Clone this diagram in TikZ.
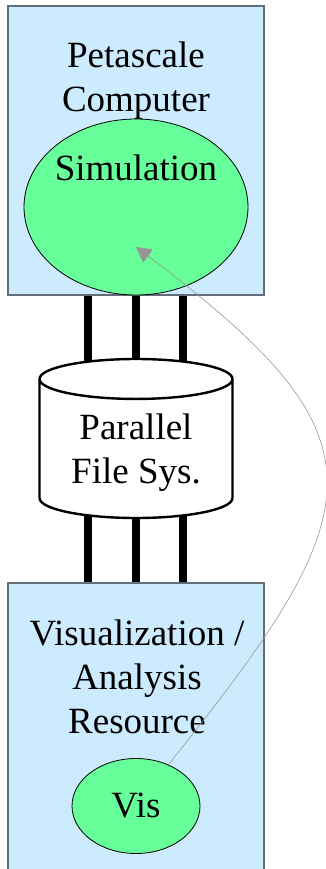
\documentclass[tikz,border=0pt]{standalone}
\usepackage{fontspec}
\setmainfont{Liberation Serif}
\usetikzlibrary{shapes.geometric,arrows.meta,backgrounds}
\definecolor{hostblue}{RGB}{204,235,255}
\definecolor{hostedge}{RGB}{100,110,120}
\definecolor{taskgreen}{RGB}{102,255,153}
\definecolor{linkgray}{RGB}{150,150,150}
\begin{document}
\begin{tikzpicture}[x=1pt,y=-1pt,
  hostbox/.style={draw=hostedge, fill=hostblue, line width=1.2pt,
    minimum width=256pt, inner sep=0pt},
  task/.style={ellipse, draw, fill=taskgreen, line width=0.8pt, inner sep=0pt},
  txt/.style={font=\fontsize{37}{44}\selectfont, align=center, anchor=base, inner sep=0pt},
  store/.style={cylinder, shape border rotate=90, draw, fill=white, line width=2.4pt,
    minimum width=193pt, minimum height=159pt, aspect=0.207, inner xsep=96.5pt, inner ysep=0pt},
  bus/.style={line width=8pt},
  flow/.style={draw=linkgray, line width=0.6pt,
    -{Triangle[length=15pt,width=16pt,fill=linkgray]}}]
\useasboundingbox (0,0) rectangle (326,869);

% hosts
\node[hostbox, minimum height=289pt] (comp) at (136,150.5) {};
\node[hostbox, minimum height=297pt] (visres) at (136,731.5) {};

% tasks and storage
\node[task, minimum width=224pt, minimum height=176pt] (sim) at (136,207) {};
\node[task, minimum width=128pt, minimum height=95pt, font=\fontsize{37}{44}\selectfont] (vis) at (136,806) {Vis};
\node[store, anchor=shape center] (pfs) at (136,438.5) {};

% texts
\node[txt] (comptxt) at (136,112) {Petascale\\Computer};
\node[txt] (simtxt) at (136,180) {Simulation};
\node[txt] (pfstxt) at (136,483) {Parallel\\File Sys.};
\node[txt] (vistxt) at (137,733) {Visualization /\\Analysis\\Resource};

% I/O links
\begin{scope}[on background layer]
\foreach \dx in {-48,0,47} {
  \draw[bus] ([xshift=\dx pt]comp.south) -- ([xshift=\dx pt]pfs.shape center);
  \draw[bus] ([xshift=\dx pt]pfs.shape center) -- ([xshift=\dx pt]visres.north);
}
\end{scope}

% steering
\coordinate (simtip) at ([yshift=-40pt]sim.center);
\draw[flow] (vis.52) .. controls (377,505) and (390,438) .. (simtip);
\end{tikzpicture}
\end{document}
